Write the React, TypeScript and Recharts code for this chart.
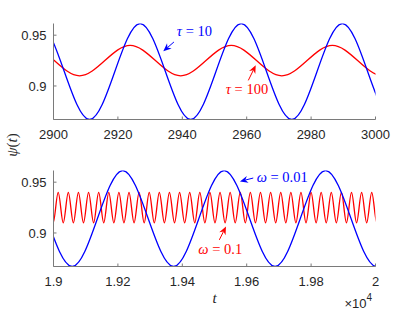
import React from 'react';
import { LineChart, Line, XAxis, YAxis, ReferenceLine, ReferenceDot, Label } from 'recharts';

// ---------- tick values ----------
const topXTicks = [2900, 2920, 2940, 2960, 2980, 3000];
const botXTicks = [19000, 19200, 19400, 19600, 19800, 20000];
const yTicks = [0.9, 0.95];

// ---------- top panel (tau) : peaks / troughs ----------
const topBlueT = [2879.8, 2895.5, 2911.2, 2926.9, 2942.6, 2958.3, 2974.0, 2989.7, 3005.4, 3021.1];
const topBlueV = [0.867, 0.9615, 0.867, 0.9615, 0.867, 0.9615, 0.867, 0.9615, 0.867, 0.9615];
const topRedT = [2876.7, 2892.4, 2908.1, 2923.8, 2939.5, 2955.2, 2970.9, 2986.6, 3002.3, 3018.0];
const topRedV = [0.91, 0.94, 0.91, 0.94, 0.91, 0.94, 0.91, 0.94, 0.91, 0.94];

// ---------- bottom panel (omega) ----------
const botBlueT = [18743, 18900, 19058, 19215, 19373, 19530, 19688, 19845, 20003, 20160];
const botBlueV = [0.867, 0.9615, 0.867, 0.9615, 0.867, 0.9615, 0.867, 0.9615, 0.867, 0.9615];
const botRedT = [
  18967.5, 18983.2, 18998.9, 19014.6, 19030.3, 19046.0, 19061.7, 19077.4, 19093.1, 19108.9, 19124.6,
  19140.3, 19156.0, 19171.7, 19187.4, 19203.1, 19218.8, 19234.5, 19250.2, 19265.9, 19281.6,
  19297.3, 19313.0, 19328.7, 19344.4, 19360.1, 19375.8, 19391.6, 19407.3, 19423.0, 19438.7,
  19454.4, 19470.1, 19485.8, 19501.5, 19517.2, 19532.9, 19548.6, 19564.3, 19580.0, 19595.7,
  19611.4, 19627.1, 19642.8, 19658.5, 19674.3, 19690.0, 19705.7, 19721.4, 19737.1, 19752.8,
  19768.5, 19784.2, 19799.9, 19815.6, 19831.3, 19847.0, 19862.7, 19878.4, 19894.1, 19909.8,
  19925.5, 19941.2, 19956.9, 19972.6, 19988.3, 20004.0, 20019.7,
];
const botRedV = [
  0.91, 0.94, 0.91, 0.94, 0.91, 0.94, 0.91, 0.94, 0.91, 0.94, 0.91,
  0.94, 0.91, 0.94, 0.91, 0.94, 0.91, 0.94, 0.91, 0.94, 0.91,
  0.94, 0.91, 0.94, 0.91, 0.94, 0.91, 0.94, 0.91, 0.94, 0.91,
  0.94, 0.91, 0.94, 0.91, 0.94, 0.91, 0.94, 0.91, 0.94, 0.91,
  0.94, 0.91, 0.94, 0.91, 0.94, 0.91, 0.94, 0.91, 0.94, 0.91,
  0.94, 0.91, 0.94, 0.91, 0.94, 0.91, 0.94, 0.91, 0.94, 0.91,
  0.94, 0.91, 0.94, 0.91, 0.94, 0.91, 0.94,
];

const zip = (ts: number[], vs: number[]) => ts.map((t, i) => ({ t, v: vs[i] }));
const topBlue = zip(topBlueT, topBlueV);
const topRed = zip(topRedT, topRedV);
const botBlue = zip(botBlueT, botBlueV);
const botRed = zip(botRedT, botRedV);

const Y_DOMAIN: [number, number] = [0.867, 0.9615];
const BLUE = '#0000ff';
const RED = '#ff0000';
const AX = '#7a7a7a';
const TXT = '#262626';
const SERIF = "'Liberation Serif', 'DejaVu Serif', serif";
const SANS = "'Liberation Sans', Arial, sans-serif";
const tickStyle = { fontSize: 13, fill: TXT, fontFamily: SANS };

const arrowShape = (color: string) => (p: any) => {
  const { x1, y1, x2, y2 } = p;
  const dx = x2 - x1;
  const dy = y2 - y1;
  const len = Math.hypot(dx, dy) || 1;
  const ux = dx / len;
  const uy = dy / len;
  const L = 8;
  const Wd = 3.5;
  const N = 5.5;
  const bx = x2 - ux * L;
  const by = y2 - uy * L;
  const px = -uy;
  const py = ux;
  const nx = x2 - ux * N;
  const ny = y2 - uy * N;
  return (
    <g>
      <line x1={x1} y1={y1} x2={nx} y2={ny} stroke={color} strokeWidth={1} />
      <polygon
        points={`${x2},${y2} ${bx + px * Wd},${by + py * Wd} ${nx},${ny} ${bx - px * Wd},${by - py * Wd}`}
        fill={color}
      />
    </g>
  );
};

const noteShape = (sym: string, rest: string, color: string) => (p: any) => (
  <text x={p.cx} y={p.cy} fill={color} fontFamily={SERIF} fontSize={14.5} style={{ whiteSpace: 'pre' }}>
    <tspan fontStyle="italic">{sym}</tspan>
    <tspan>{rest}</tspan>
  </text>
);

const commonAxes = (domain: [number, number], ticks: number[], fmt?: (v: number) => string, xLabel?: React.ReactNode) => [
  <XAxis
    key="xb"
    xAxisId="b"
    type="number"
    dataKey="t"
    domain={domain}
    allowDataOverflow
    ticks={ticks}
    interval={0}
    tickSize={-3}
    tickMargin={13.5}
    height={30}
    stroke={AX}
    tick={tickStyle}
    tickFormatter={fmt}
  >
    {xLabel}
  </XAxis>,
  <XAxis
    key="xt"
    xAxisId="t"
    orientation="top"
    type="number"
    dataKey="t"
    domain={domain}
    allowDataOverflow
    ticks={ticks}
    interval={0}
    tickSize={-3}
    tick={false}
    height={0}
    stroke={AX}
  />,
  <YAxis
    key="yr"
    yAxisId="r"
    orientation="right"
    type="number"
    domain={Y_DOMAIN}
    allowDataOverflow
    ticks={yTicks}
    interval={0}
    tickSize={-3}
    tick={false}
    width={0}
    stroke={AX}
  />,
];

export default function App() {
  return (
    <div style={{ position: 'absolute', left: 0, top: 0, width: 415, height: 312, background: '#fff' }}>
      <div style={{ position: 'absolute', left: 0, top: 0 }}>
        <LineChart width={415} height={160} margin={{ top: 23.5, right: 39.5, bottom: 10.5, left: 0 }}>
          {commonAxes([2900, 3000], topXTicks)}
          <YAxis
            yAxisId="l"
            type="number"
            domain={Y_DOMAIN}
            allowDataOverflow
            ticks={yTicks}
            interval={0}
            tickSize={-3}
            tickMargin={10}
            width={53.5}
            stroke={AX}
            tick={tickStyle}
          >
            <Label
              content={() => (
                <text
                  transform="translate(17,145) rotate(-90)"
                  textAnchor="middle"
                  fontFamily={SERIF}
                  fontSize={15}
                  fill={TXT}
                >
                  <tspan fontStyle="italic">ψ</tspan>
                  <tspan>(</tspan>
                  <tspan fontStyle="italic">t</tspan>
                  <tspan>)</tspan>
                </text>
              )}
            />
          </YAxis>
          <Line xAxisId="b" yAxisId="l" data={topRed} dataKey="v" type="monotone" stroke={RED} strokeWidth={1.3} dot={false} isAnimationActive={false} />
          <Line xAxisId="b" yAxisId="l" data={topBlue} dataKey="v" type="monotone" stroke={BLUE} strokeWidth={1.3} dot={false} isAnimationActive={false} />
          <ReferenceLine xAxisId="b" yAxisId="l" segment={[{ x: 2937.4, y: 0.9433 }, { x: 2934.1, y: 0.9342 }]} shape={arrowShape(BLUE)} />
          <ReferenceDot xAxisId="b" yAxisId="l" x={2938.3} y={0.9493} r={0} shape={noteShape('τ', ' = 10', BLUE)} />
          <ReferenceLine xAxisId="b" yAxisId="l" segment={[{ x: 2960.5, y: 0.9055 }, { x: 2962.8, y: 0.9203 }]} shape={arrowShape(RED)} />
          <ReferenceDot xAxisId="b" yAxisId="l" x={2953.5} y={0.8917} r={0} shape={noteShape('τ', ' = 100', RED)} />
        </LineChart>
      </div>
      <div style={{ position: 'absolute', left: 0, top: 150 }}>
        <LineChart width={415} height={162} margin={{ top: 20.5, right: 39.5, bottom: 15.5, left: 0 }}>
          {commonAxes(
            [19000, 20000],
            botXTicks,
            (v: number) => String(v / 10000),
            <Label
              content={(p: any) => {
                const vb = p.viewBox || { x: 53.5, y: 116.5, width: 322, height: 30 };
                return (
                  <g>
                    <text x={vb.x + vb.width / 2} y={152.5} textAnchor="middle" fontFamily={SERIF} fontStyle="italic" fontSize={15} fill={TXT}>
                      t
                    </text>
                    <text x={vb.x + vb.width - 3.5} y={158.3} textAnchor="end" fontFamily={SANS} fontSize={13} fill={TXT}>
                      <tspan>×10</tspan>
                      <tspan fontSize={10} dy={-7}>4</tspan>
                    </text>
                  </g>
                );
              }}
            />
          )}
          <YAxis
            yAxisId="l"
            type="number"
            domain={Y_DOMAIN}
            allowDataOverflow
            ticks={yTicks}
            interval={0}
            tickSize={-3}
            tickMargin={10}
            width={53.5}
            stroke={AX}
            tick={tickStyle}
          />
          <Line xAxisId="b" yAxisId="l" data={botRed} dataKey="v" type="monotone" stroke={RED} strokeWidth={1.3} dot={false} isAnimationActive={false} />
          <Line xAxisId="b" yAxisId="l" data={botBlue} dataKey="v" type="monotone" stroke={BLUE} strokeWidth={1.3} dot={false} isAnimationActive={false} />
          <ReferenceLine xAxisId="b" yAxisId="l" segment={[{ x: 19620.3, y: 0.9541 }, { x: 19579.1, y: 0.9507 }]} shape={arrowShape(BLUE)} />
          <ReferenceDot xAxisId="b" yAxisId="l" x={19630.9} y={0.9501} r={0} shape={noteShape('ω', ' = 0.01', BLUE)} />
          <ReferenceLine xAxisId="b" yAxisId="l" segment={[{ x: 19514.9, y: 0.8932 }, { x: 19535.7, y: 0.9063 }]} shape={arrowShape(RED)} />
          <ReferenceDot xAxisId="b" yAxisId="l" x={19449.8} y={0.8791} r={0} shape={noteShape('ω', ' = 0.1', RED)} />
        </LineChart>
      </div>
    </div>
  );
}
